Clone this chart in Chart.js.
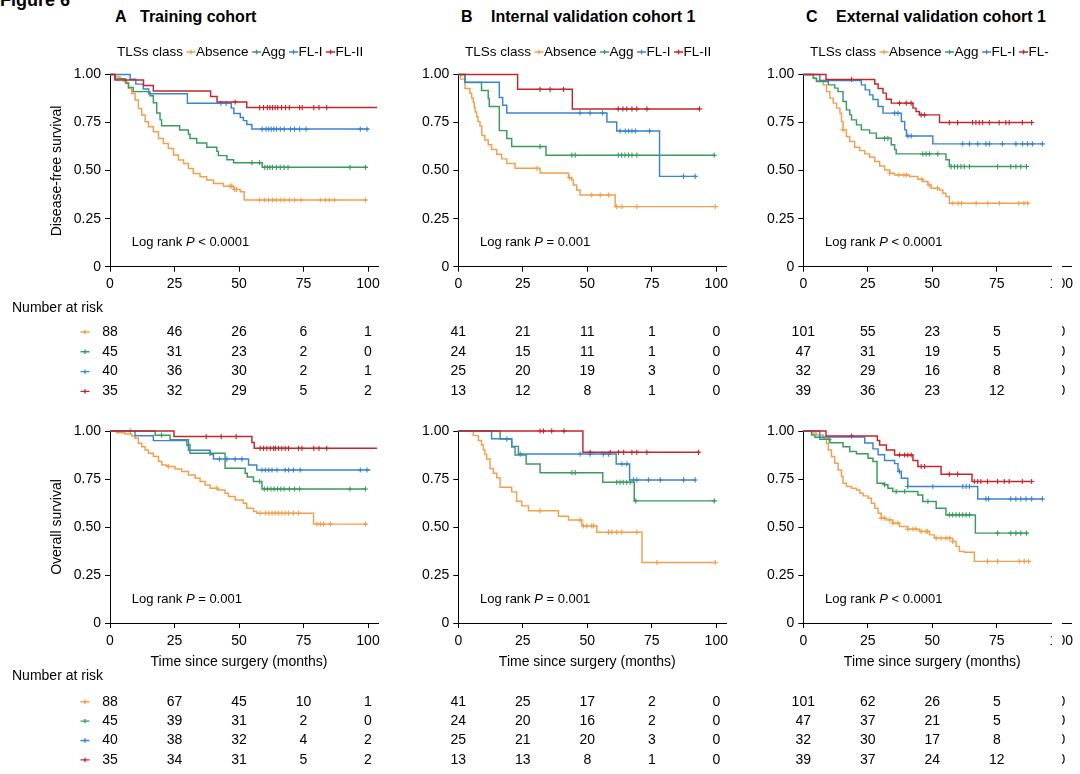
<!DOCTYPE html>
<html><head><meta charset="utf-8">
<script src="https://cdn.jsdelivr.net/npm/chart.js@4.4.1/dist/chart.umd.min.js"></script>
<style>
html,body{margin:0;padding:0;background:#fff}
body{width:1080px;height:774px;position:relative;overflow:hidden;font-family:"Liberation Sans",Arial,Helvetica,sans-serif;color:#000}
.txt{position:absolute;white-space:nowrap;line-height:1}
.ttl{font-weight:bold;font-size:16px}
.lab{font-size:14px}
.mask{position:absolute;background:#fff}
canvas{position:absolute}
</style></head><body>
<div class="txt" style="left:0;top:-9px;font-weight:bold;font-size:18px">Figure 6</div>
<script>
// ---------- shared axis / category data ----------
const xTicks = [0,25,50,75,100];
const yTicks = [0,0.25,0.5,0.75,1];
const yTickLabels = ['0','0.25','0.50','0.75','1.00'];
const riskTimes = [0,25,50,75,100];
const groups = ['Absence','Agg','FL-I','FL-II'];
const panelLetters = ['A','B','C'];
const panelTitles = ['Training cohort','Internal validation cohort 1','External validation cohort 1'];
const yTitles = ['Disease-free survival','Overall survival'];
const logRankP = [['< 0.0001','= 0.001','< 0.0001'],['= 0.001','= 0.001','< 0.0001']];

// ---------- DFS, training cohort (A) : [time, survival] after each drop ----------
const dfsA_Absence = [[0,1],[1.9,0.988],[3.9,0.977],[5.2,0.966],[6.5,0.953],[7.1,0.927],[8.4,0.901],[9.7,0.867],[11,0.823],[12.3,0.789],[13.6,0.754],[14.9,0.728],[16.8,0.702],[18.8,0.667],[20.7,0.641],[22.6,0.615],[24.6,0.581],[26.5,0.555],[28.5,0.537],[30.4,0.511],[32.3,0.485],[34.9,0.468],[37.5,0.451],[40.1,0.433],[44,0.419],[47.9,0.402],[50.5,0.39],[52,0.347],[99.6,0.347]];
const dfsA_Agg = [[0,1],[1.9,0.978],[6,0.956],[7.2,0.933],[9,0.911],[15.5,0.889],[16.8,0.853],[18.1,0.8],[19.4,0.764],[20,0.733],[27,0.711],[30.4,0.689],[31,0.667],[33.6,0.644],[37.5,0.622],[41.4,0.6],[42,0.578],[45.3,0.556],[47.9,0.541],[59,0.517],[99.6,0.517]];
const dfsA_FLI = [[0,1],[7.8,0.975],[10,0.95],[12.9,0.925],[15,0.9],[30,0.85],[47,0.825],[48,0.797],[50.5,0.776],[51.7,0.76],[53,0.74],[55,0.716],[100.3,0.716]];
const dfsA_FLII = [[0,1],[1.9,0.971],[13,0.943],[16.8,0.914],[39,0.886],[41.5,0.857],[53,0.828],[103.5,0.828]];
const dfsA_Absence_cens = [46.5,47.2,48.3,49,58,60,61.5,63,64.5,66,67.5,69.5,71.5,74,81.5,83.5,85,87,99];
const dfsA_Agg_cens = [55,58,60,61,62,63,64.5,66,67.5,69,93,99];
const dfsA_FLI_cens = [43,45,59,60.5,61.5,62.5,63.5,64.5,66,67.5,70,71.5,73.5,76,97,99.6];
const dfsA_FLII_cens = [48.5,58,59.5,61,62,63,64,65,66.5,68,69.5,73.5,74.5,79,81,84];

// ---------- DFS, internal validation (B) ----------
const dfsB_Absence = [[0,1],[0.9,0.976],[2.6,0.927],[4.5,0.902],[5.2,0.878],[5.8,0.854],[6.2,0.829],[6.5,0.805],[7.1,0.78],[7.6,0.756],[8.4,0.732],[9.1,0.683],[10.3,0.659],[11.6,0.634],[12.9,0.61],[14.9,0.585],[16.8,0.561],[18.8,0.537],[22,0.512],[31.7,0.487],[42.7,0.463],[44,0.451],[44.6,0.425],[45.9,0.399],[47.2,0.373],[60.8,0.3125],[99.6,0.3125]];
const dfsB_Agg = [[0,1],[2.6,0.958],[9,0.917],[11.6,0.875],[12,0.833],[15.9,0.708],[18.8,0.667],[20.7,0.625],[34,0.58],[99.6,0.58]];
const dfsB_FLI = [[0,1],[2.6,0.96],[15.9,0.88],[17.2,0.84],[18.8,0.8],[57.6,0.753],[61.4,0.706],[78,0.47],[92.2,0.47]];
const dfsB_FLII = [[0,1],[23,0.923],[44.2,0.821],[93.5,0.821]];
const dfsB_Absence_cens = [30.5,43.2,51.7,55,58.2,61.4,63.4,69.2,99.6];
const dfsB_Agg_cens = [31.7,44,45.3,62,63.3,64.6,66,67.3,69.2,99.2];
const dfsB_FLI_cens = [47.2,51.1,55.9,62.7,64.7,66,67.3,68.6,74.1,87.3,91.8];
const dfsB_FLII_cens = [31.7,35.6,40.8,62,63.8,65.3,67.3,69.2,73.1,93.5];

// ---------- DFS, external validation (C) ----------
const dfsC_Absence = [[0,1],[3.9,0.981],[5.1,0.969],[7.7,0.946],[9,0.911],[10.3,0.877],[11.6,0.851],[12.9,0.825],[14.2,0.799],[14.8,0.755],[15.4,0.712],[16.7,0.677],[18,0.651],[19.9,0.622],[21.9,0.604],[23.8,0.587],[25.7,0.569],[27.7,0.547],[29.6,0.524],[31.5,0.503],[33.5,0.486],[35.4,0.477],[41.2,0.469],[44.4,0.455],[46.3,0.443],[48.3,0.425],[49.5,0.408],[52.8,0.399],[54.1,0.382],[55.3,0.365],[56.6,0.33],[87.5,0.33]];
const dfsC_Agg = [[0,1],[3.9,0.98],[5.1,0.964],[9.7,0.946],[12.2,0.929],[13.5,0.911],[15.4,0.86],[16.7,0.816],[18,0.79],[18.7,0.764],[20.6,0.738],[22.5,0.712],[25.7,0.695],[28.3,0.668],[34.1,0.634],[35.4,0.61],[36,0.587],[55.3,0.556],[56.6,0.521],[86.9,0.521]];
const dfsC_FLI = [[0,1],[6.4,0.969],[22.5,0.946],[24,0.92],[25.7,0.894],[27,0.87],[29,0.833],[30.9,0.799],[38,0.755],[39.3,0.712],[40,0.68],[50.2,0.639],[92.9,0.639]];
const dfsC_FLII = [[0,1],[8.8,0.974],[27.7,0.951],[29,0.927],[30.9,0.903],[32.2,0.871],[34.1,0.851],[42.5,0.825],[43.7,0.808],[45,0.79],[52.8,0.75],[88.8,0.75]];
const dfsC_Absence_cens = [15.4,33.5,37,39,40,46,48.8,52,58,60,61.3,67,71.5,76,83.5,85.5,87];
const dfsC_Agg_cens = [31.5,32.8,46.3,47.6,48.9,52.1,57.3,58.6,59.8,61.1,62.4,64.4,75.3,80.4,82.4,84.3,86.5];
const dfsC_FLI_cens = [35.4,36.7,40.5,41.8,61.8,64.4,67.6,70.8,72.1,77.2,82.4,85,86.9,88.8,92.7];
const dfsC_FLII_cens = [18.7,37.3,39.9,41.8,45.7,47,56.6,59.8,65.6,66.9,68.2,69.5,72.1,75.9,78.5,79.8,84.9,88.5];

// ---------- OS, training cohort (A) ----------
const osA_Absence = [[0,1],[2.6,0.991],[5.8,0.984],[8.4,0.974],[9.7,0.962],[11,0.936],[12.3,0.918],[13.6,0.901],[14.9,0.884],[16.8,0.867],[18.8,0.841],[20.1,0.823],[22,0.815],[25.2,0.802],[27.8,0.789],[30.4,0.771],[33,0.754],[34.9,0.737],[36.9,0.719],[38.8,0.702],[42,0.693],[44.6,0.676],[45.9,0.659],[48.5,0.641],[51.7,0.624],[53,0.598],[55.6,0.581],[56.9,0.572],[78.9,0.515],[99.6,0.515]];
const osA_Agg = [[0,1],[17.5,0.978],[23.3,0.955],[30.4,0.93],[31,0.884],[44.6,0.806],[52.4,0.78],[53.2,0.76],[55.6,0.737],[58.9,0.698],[99,0.698]];
const osA_FLI = [[0,1],[9.7,0.975],[16.8,0.95],[29.8,0.925],[30.4,0.9],[38.8,0.877],[40.1,0.854],[53.7,0.823],[56.9,0.797],[100.9,0.797]];
const osA_FLII = [[0,1],[24.8,0.971],[55,0.94],[55.9,0.91],[103.5,0.91]];
const osA_Absence_cens = [22.6,41.4,58.2,60.2,61.5,62.8,64,65.3,66.6,67.9,69.2,71.1,73.1,80.2,81.5,82.8,85.4,99];
const osA_Agg_cens = [7.8,20,38.8,58,59.8,61.1,62.4,63.6,64.9,66.2,67.5,69.5,71.5,73.5,93,99];
const osA_FLI_cens = [42.4,45.3,48.5,51.1,58.9,60.2,61.5,62.8,64.7,67.9,69.2,71.1,73.7,97,99.6];
const osA_FLII_cens = [37.3,43.1,48.9,58.2,59.5,60.8,62.1,63.4,64.1,65.3,66.6,67.9,69.2,73.1,74.4,79,81,84];

// ---------- OS, internal validation (B) ----------
const osB_Absence = [[0,1],[5.8,0.976],[7.8,0.951],[9,0.927],[9.7,0.902],[10.3,0.878],[11,0.854],[12.3,0.805],[13.6,0.78],[14.9,0.756],[16.2,0.707],[20.7,0.683],[22.6,0.634],[24.6,0.61],[27.2,0.585],[38.8,0.556],[42.7,0.536],[47.9,0.506],[53.7,0.473],[71.2,0.315],[99.6,0.315]];
const osB_Agg = [[0,1],[16.2,0.958],[20.7,0.917],[22,0.875],[26.3,0.828],[31.7,0.783],[56,0.733],[68.2,0.636],[99.6,0.636]];
const osB_FLI = [[0,1],[12.9,0.96],[20.7,0.92],[23.3,0.88],[61.2,0.828],[66.4,0.745],[92.2,0.745]];
const osB_FLII = [[0,1],[48.3,0.889],[93.5,0.889]];
const osB_Absence_cens = [31.7,47.2,48.5,49.8,51.7,52.4,58.2,59.5,61.4,63.4,69.2,77,99.6];
const osB_Agg_cens = [18.8,44,45.3,61.4,62.7,63.9,65.3,66.6,68.8,99.2];
const osB_FLI_cens = [24,47.2,51.1,56.2,58.2,63.4,65.3,67.9,69.2,73.7,78.3,87.3,91.8];
const osB_FLII_cens = [31.7,33,36.2,41,51.1,58.9,62.1,64.1,67.3,69.2,73.1,93.1];

// ---------- OS, external validation (C) ----------
const osC_Absence = [[0,1],[3.2,0.99],[5.1,0.979],[7.7,0.962],[9,0.936],[9.7,0.901],[10.9,0.867],[12.2,0.832],[13.5,0.797],[14.8,0.763],[15.4,0.728],[16.7,0.711],[18.7,0.702],[20.6,0.693],[21.9,0.676],[23.2,0.662],[25.1,0.65],[26.4,0.624],[27.7,0.598],[29,0.572],[30.2,0.546],[32.2,0.537],[34.7,0.52],[37.3,0.503],[40.5,0.489],[45,0.477],[48.9,0.459],[50.8,0.442],[57.9,0.425],[59.2,0.399],[60.5,0.373],[62.4,0.368],[66.3,0.321],[87.5,0.321]];
const osC_Agg = [[0,1],[3.2,0.979],[4.5,0.967],[6.4,0.957],[10.3,0.939],[15.4,0.918],[18,0.893],[20.6,0.882],[25.1,0.858],[27,0.841],[28.6,0.728],[31.5,0.72],[32.8,0.702],[34.7,0.685],[44.4,0.667],[46.3,0.633],[51.5,0.598],[55.3,0.563],[66.7,0.468],[86.9,0.468]];
const osC_FLI = [[0,1],[6.4,0.969],[23.8,0.938],[27,0.907],[29,0.876],[31.5,0.846],[35.4,0.83],[36.7,0.789],[38,0.754],[40.5,0.711],[67.6,0.646],[92.9,0.646]];
const osC_FLII = [[0,1],[8.8,0.974],[28.7,0.951],[29.6,0.927],[32.2,0.901],[35.4,0.875],[42.5,0.846],[44.4,0.815],[53.4,0.775],[65.4,0.737],[88.5,0.737]];
const osC_Absence_cens = [30.2,31.5,33.5,34.8,36.7,40.5,42.5,43.7,45.7,47.6,48.2,51.5,53.4,55.3,56.6,57.9,71.4,75.3,83.7,85.6,87.3];
const osC_Agg_cens = [10,31.5,36,39.3,48.3,56.6,57.9,59.2,60.5,61.8,63.1,64.4,75.3,80.4,82.4,84.3,86.5];
const osC_FLI_cens = [37.3,40.5,50.2,61.8,63.1,64.4,70.8,71.8,80.4,82.4,84.3,86.3,88.5,92.7];
const osC_FLII_cens = [18.7,37.3,39.3,40.5,41.8,45.7,47,56.6,59.8,66.3,67.6,68.8,71.4,75.3,77.9,79.8,84.9,88.5];

// ---------- Number at risk (rows: Absence, Agg, FL-I, FL-II; cols: riskTimes) ----------
const riskDfsA = [[88,46,26,6,1],[45,31,23,2,0],[40,36,30,2,1],[35,32,29,5,2]];
const riskDfsB = [[41,21,11,1,0],[24,15,11,1,0],[25,20,19,3,0],[13,12,8,1,0]];
const riskDfsC = [[101,55,23,5,0],[47,31,19,5,0],[32,29,16,8,0],[39,36,23,12,0]];
const riskOsA = [[88,67,45,10,1],[45,39,31,2,0],[40,38,32,4,2],[35,34,31,5,2]];
const riskOsB = [[41,25,17,2,0],[24,20,16,2,0],[25,21,20,3,0],[13,13,8,1,0]];
const riskOsC = [[101,62,26,5,0],[47,37,21,5,0],[32,30,17,8,0],[39,37,24,12,0]];

// ---------- styles / layout ----------
const FONT = '"Liberation Sans", Arial, Helvetica, sans-serif';
const groupColors = ['#F2A04E','#3B9A5E','#3B84CE','#C1272D'];
const X_MAX = 104, PX_PER_UNIT = 2.58;
const colChartLeft = [110, 458.3, 803.3];
const colCanvas = [{l:0,w:400},{l:400,w:345},{l:745,w:335}];
const legendLeft = [117, 465, 810];
const rowGeo = [
  {top:74.5, bottom:266.7, cTop:40, cH:365, tickPad:4, riskFirst:65.3, riskStep:19.8},
  {top:431, bottom:623, cTop:418, cH:356, tickPad:5, riskFirst:78.7, riskStep:19.4}
];
Chart.defaults.font.family = FONT;

const panelData = [
  [ {curves:[dfsA_Absence,dfsA_Agg,dfsA_FLI,dfsA_FLII], cens:[dfsA_Absence_cens,dfsA_Agg_cens,dfsA_FLI_cens,dfsA_FLII_cens], risk:riskDfsA},
    {curves:[dfsB_Absence,dfsB_Agg,dfsB_FLI,dfsB_FLII], cens:[dfsB_Absence_cens,dfsB_Agg_cens,dfsB_FLI_cens,dfsB_FLII_cens], risk:riskDfsB},
    {curves:[dfsC_Absence,dfsC_Agg,dfsC_FLI,dfsC_FLII], cens:[dfsC_Absence_cens,dfsC_Agg_cens,dfsC_FLI_cens,dfsC_FLII_cens], risk:riskDfsC} ],
  [ {curves:[osA_Absence,osA_Agg,osA_FLI,osA_FLII], cens:[osA_Absence_cens,osA_Agg_cens,osA_FLI_cens,osA_FLII_cens], risk:riskOsA},
    {curves:[osB_Absence,osB_Agg,osB_FLI,osB_FLII], cens:[osB_Absence_cens,osB_Agg_cens,osB_FLI_cens,osB_FLII_cens], risk:riskOsB},
    {curves:[osC_Absence,osC_Agg,osC_FLI,osC_FLII], cens:[osC_Absence_cens,osC_Agg_cens,osC_FLI_cens,osC_FLII_cens], risk:riskOsC} ]
];

function survAt(curve, t){ let s = 1; for (const [x,y] of curve){ if (x <= t) s = y; else break; } return s; }

function drawMark(ctx, cx, cy, col){
  ctx.save(); ctx.strokeStyle = col; ctx.lineWidth = 1.4;
  ctx.beginPath(); ctx.moveTo(cx-4.5, cy); ctx.lineTo(cx+4.5, cy); ctx.moveTo(cx, cy-2.2); ctx.lineTo(cx, cy+2.2); ctx.stroke();
  ctx.restore();
}

const kmPlugin = {
  id: 'km',
  afterDraw(chart, args, o){
    const ctx = chart.ctx, ca = chart.chartArea, xs = chart.scales.x;
    ctx.save();
    ctx.fillStyle = '#000'; ctx.textBaseline = 'middle';
    if (o.legend){
      ctx.font = `13.5px ${FONT}`; ctx.textAlign = 'left';
      let x = o.legendX - o.offX; const y = 52 - o.offY;
      ctx.fillText('TLSs class', x, y); x += ctx.measureText('TLSs class').width + 3;
      groups.forEach((g,i) => {
        drawMark(ctx, x + 5, y, groupColors[i]); x += 10;
        ctx.fillStyle = '#000'; ctx.fillText(g, x, y); x += ctx.measureText(g).width + 3;
      });
    }
    {
      ctx.textAlign = 'left';
      let x = ca.left + 21.7; const y = ca.bottom - 24;
      ctx.font = `13px ${FONT}`; ctx.fillText('Log rank ', x, y); x += ctx.measureText('Log rank ').width;
      ctx.font = `italic 13px ${FONT}`; ctx.fillText('P', x, y); x += ctx.measureText('P').width;
      ctx.font = `13px ${FONT}`; ctx.fillText(' ' + o.p, x, y);
    }
    if (o.xTitle){
      ctx.font = `14px ${FONT}`; ctx.textAlign = 'center';
      ctx.fillText(o.xTitle, xs.getPixelForValue(50), ca.bottom + 38.7);
    }
    ctx.font = `14px ${FONT}`; ctx.textAlign = 'center';
    o.risk.forEach((row, gi) => {
      const y = ca.bottom + o.riskFirst + gi * o.riskStep;
      row.forEach((n, k) => { ctx.fillStyle = '#000'; ctx.fillText(String(n), xs.getPixelForValue(riskTimes[k]), y); });
      if (o.markers) drawMark(ctx, 85 - o.offX, y, groupColors[gi]);
    });
    ctx.restore();
  }
};

for (let r = 0; r < 2; r++){
  const g = rowGeo[r];
  for (let c = 0; c < 3; c++){
    const pd = panelData[r][c], cv = colCanvas[c];
    const canvas = document.createElement('canvas');
    canvas.width = cv.w; canvas.height = g.cH;
    canvas.style.left = cv.l + 'px'; canvas.style.top = g.cTop + 'px';
    canvas.style.width = cv.w + 'px'; canvas.style.height = g.cH + 'px';
    document.body.appendChild(canvas);
    const chartW = X_MAX * PX_PER_UNIT;
    const pad = {
      left: colChartLeft[c] - cv.l - 45,
      right: cv.w - (colChartLeft[c] - cv.l) - chartW,
      top: g.top - g.cTop,
      bottom: g.cH - (g.bottom - g.cTop) - 30
    };
    const datasets = [];
    for (let i = groups.length - 1; i >= 0; i--){
      datasets.push({ label: groups[i], data: pd.curves[i].map(([x,y]) => ({x,y})), stepped: 'before',
        borderColor: groupColors[i], borderWidth: 1.45, pointRadius: 0, fill: false, clip: false, tension: 0 });
    }
    for (let i = groups.length - 1; i >= 0; i--){
      datasets.push({ label: groups[i] + ' censored', data: pd.cens[i].map(t => ({x:t, y:survAt(pd.curves[i], t)})),
        showLine: false, pointStyle: 'cross', pointRadius: 2.6, pointBorderWidth: 1.1, borderColor: groupColors[i],
        backgroundColor: groupColors[i], clip: false });
    }
    new Chart(canvas, {
      type: 'line',
      data: { datasets },
      options: {
        responsive: false, animation: false, devicePixelRatio: 1,
        layout: { padding: pad },
        plugins: { legend: {display:false}, tooltip: {enabled:false},
          km: { legend: r === 0, legendX: legendLeft[c], offX: cv.l, offY: g.cTop, p: logRankP[r][c],
                xTitle: r === 1 ? 'Time since surgery (months)' : null, risk: pd.risk,
                riskFirst: g.riskFirst, riskStep: g.riskStep, markers: c === 0 } },
        scales: {
          x: { type: 'linear', min: 0, max: X_MAX,
            afterBuildTicks: s => { s.ticks = xTicks.map(v => ({value: v})); },
            afterFit: s => { s.height = 30; },
            grid: { display: true, drawOnChartArea: false, drawTicks: true, tickLength: 5, color: '#000', lineWidth: 1 },
            border: { display: true, color: '#000', width: 1 },
            ticks: { color: '#000', font: {family: FONT, size: 14}, padding: g.tickPad, maxRotation: 0, autoSkip: false,
              callback: (v) => String(v) } },
          y: { type: 'linear', min: 0, max: 1,
            afterBuildTicks: s => { s.ticks = yTicks.map(v => ({value: v})); },
            afterFit: s => { s.width = 45; },
            grid: { display: true, drawOnChartArea: false, drawTicks: true, tickLength: 5, color: '#000', lineWidth: 1 },
            border: { display: true, color: '#000', width: 1 },
            ticks: { color: '#000', font: {family: FONT, size: 14}, padding: 4, autoSkip: false,
              callback: (v, i) => yTickLabels[i] } }
        }
      },
      plugins: [kmPlugin]
    });
  }
}

function addText(html, style, cls){ const d = document.createElement('div'); d.className = 'txt ' + (cls||''); d.innerHTML = html; d.style.cssText += style; document.body.appendChild(d); return d; }
const titleLeft = [[115,140],[461,491],[806,836]];
for (let c = 0; c < 3; c++){
  addText(panelLetters[c], `left:${titleLeft[c][0]}px;top:9px;`, 'ttl');
  addText(panelTitles[c], `left:${titleLeft[c][1]}px;top:9px;`, 'ttl');
}
addText('Number at risk', 'left:12px;top:299.8px;', 'lab');
addText('Number at risk', 'left:12px;top:668px;', 'lab');
addText(yTitles[0], 'left:56px;top:170.6px;transform:translate(-50%,-50%) rotate(-90deg);', 'lab');
addText(yTitles[1], 'left:56px;top:527px;transform:translate(-50%,-50%) rotate(-90deg);', 'lab');
const m1 = document.createElement('div'); m1.className = 'mask'; m1.style.cssText = 'left:1052px;top:262px;width:10px;height:512px;'; document.body.appendChild(m1);
const m2 = document.createElement('div'); m2.className = 'mask'; m2.style.cssText = 'left:1050px;top:42px;width:30px;height:20px;'; document.body.appendChild(m2);
</script>
</body></html>
